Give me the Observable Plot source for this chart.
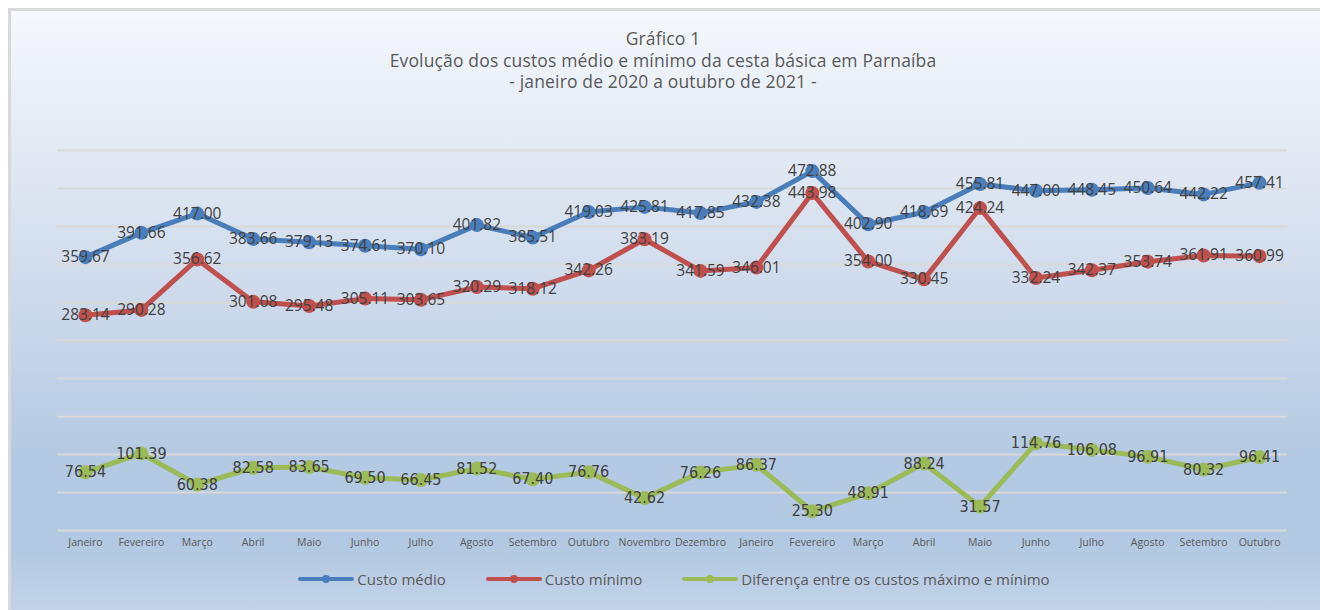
<!DOCTYPE html>
<html><head><meta charset="utf-8">
<script src="https://cdn.jsdelivr.net/npm/d3@7"></script>
<script src="https://cdn.jsdelivr.net/npm/@observablehq/plot@0.6"></script>
<style>
body{margin:0;background:#fff;}
#wrap{position:relative;width:1320px;height:610px;overflow:hidden;font-family:"Open Sans",sans-serif;}
#frame{position:absolute;left:8px;top:8px;width:1330px;height:610px;border-top:3px solid #d9d9d9;border-left:3px solid #d9d9d9;
 background:linear-gradient(to bottom,#f5f8fc 0%,#e0e8f3 25%,#c3d3e8 58%,#b4c9e3 73%,#b3c8e2 88%,#c5d5ea 100%);}
#title{position:absolute;left:8px;width:1310px;top:28px;text-align:center;color:#595959;font-size:17.5px;line-height:21.5px;letter-spacing:0.15px;}
#chart{position:absolute;left:0;top:100px;}
#legend{position:absolute;left:0;top:569px;width:1320px;display:flex;justify-content:center;gap:40px;color:#595959;font-size:15px;padding-left:28px;box-sizing:border-box;}
#legend .item{display:flex;align-items:center;gap:3px;white-space:nowrap;}
</style></head>
<body>
<div id="wrap">
 <div id="frame"></div>
 <div id="title">Gráfico 1<br>Evolução dos custos médio e mínimo da cesta básica em Parnaíba<br>- janeiro de 2020 a outubro de 2021 -</div>
 <div id="chart"></div>
 <div id="legend"></div>
</div>
<script>
const months = ["Janeiro","Fevereiro","Março","Abril","Maio","Junho","Julho","Agosto","Setembro","Outubro","Novembro","Dezembro",
  "Janeiro","Fevereiro","Março","Abril","Maio","Junho","Julho","Agosto","Setembro","Outubro"];
const custoMedio = [359.67,391.66,417.00,383.66,379.13,374.61,370.10,401.82,385.51,419.03,425.81,417.85,
  432.38,472.88,402.90,418.69,455.81,447.00,448.45,450.64,442.22,457.41];
const custoMinimo = [283.14,290.28,356.62,301.08,295.48,305.11,303.65,320.29,318.12,342.26,383.19,341.59,
  346.01,443.98,354.00,330.45,424.24,332.24,342.37,353.74,361.91,360.99];
const diferenca = [76.54,101.39,60.38,82.58,83.65,69.50,66.45,81.52,67.40,76.76,42.62,76.26,
  86.37,25.30,48.91,88.24,31.57,114.76,106.08,96.91,80.32,96.41];
const seriesNames = ["Custo médio","Custo mínimo","Diferença entre os custos máximo e mínimo"];
const seriesColors = ["#4a7ebb","#c0504d","#9bbb59"];
const gridTicks = d3.range(0, 501, 50);

const seriesValues = [custoMedio, custoMinimo, diferenca];
const labelFonts = ['"Open Sans",sans-serif','"Open Sans",sans-serif','"Liberation Sans Narrow","DejaVu Sans Condensed","Open Sans",sans-serif'];
const idx = d3.range(months.length);

const marks = [Plot.ruleY(gridTicks, {stroke:"#d9d9d9", strokeWidth:2})];
seriesValues.forEach((vals, s) => {
  marks.push(Plot.line(idx, {x: i => i, y: i => vals[i], stroke: seriesColors[s], strokeWidth: 5, strokeLinejoin: "round", strokeLinecap: "round"}));
  marks.push(Plot.dot(idx, {x: i => i, y: i => vals[i], r: 7, fill: seriesColors[s], stroke: "none"}));
});
seriesValues.forEach((vals, s) => {
  marks.push(Plot.text(idx, {x: i => i, y: i => vals[i], text: i => vals[i].toFixed(2), fill: "#404040",
    fontSize: s === 2 ? 16 : 15.5, fontFamily: labelFonts[s]}));
});
marks.push(Plot.axisX({tickFormat: i => months[i], tickSize: 0, tickPadding: 8, fill: "#595959", fontSize: 10.5, label: null}));

const chart = Plot.plot({
  width: 1320, height: 460,
  marginTop: 50, marginBottom: 30, marginLeft: 57, marginRight: 33,
  x: {type: "point", domain: idx, padding: 0.5, round: false},
  y: {domain: [0, 500], axis: null},
  style: {background: "transparent", fontFamily: '"Open Sans",sans-serif'},
  marks
});
document.getElementById("chart").appendChild(chart);

const legend = document.getElementById("legend");
seriesNames.forEach((n, s) => {
  const it = document.createElement("div");
  it.className = "item";
  it.innerHTML = `<svg width="56" height="12"><line x1="2" y1="6" x2="54" y2="6" stroke="${seriesColors[s]}" stroke-width="4" stroke-linecap="round"/><circle cx="28" cy="6" r="4" fill="${seriesColors[s]}"/></svg><span>${n}</span>`;
  legend.appendChild(it);
});
</script>
</body></html>
